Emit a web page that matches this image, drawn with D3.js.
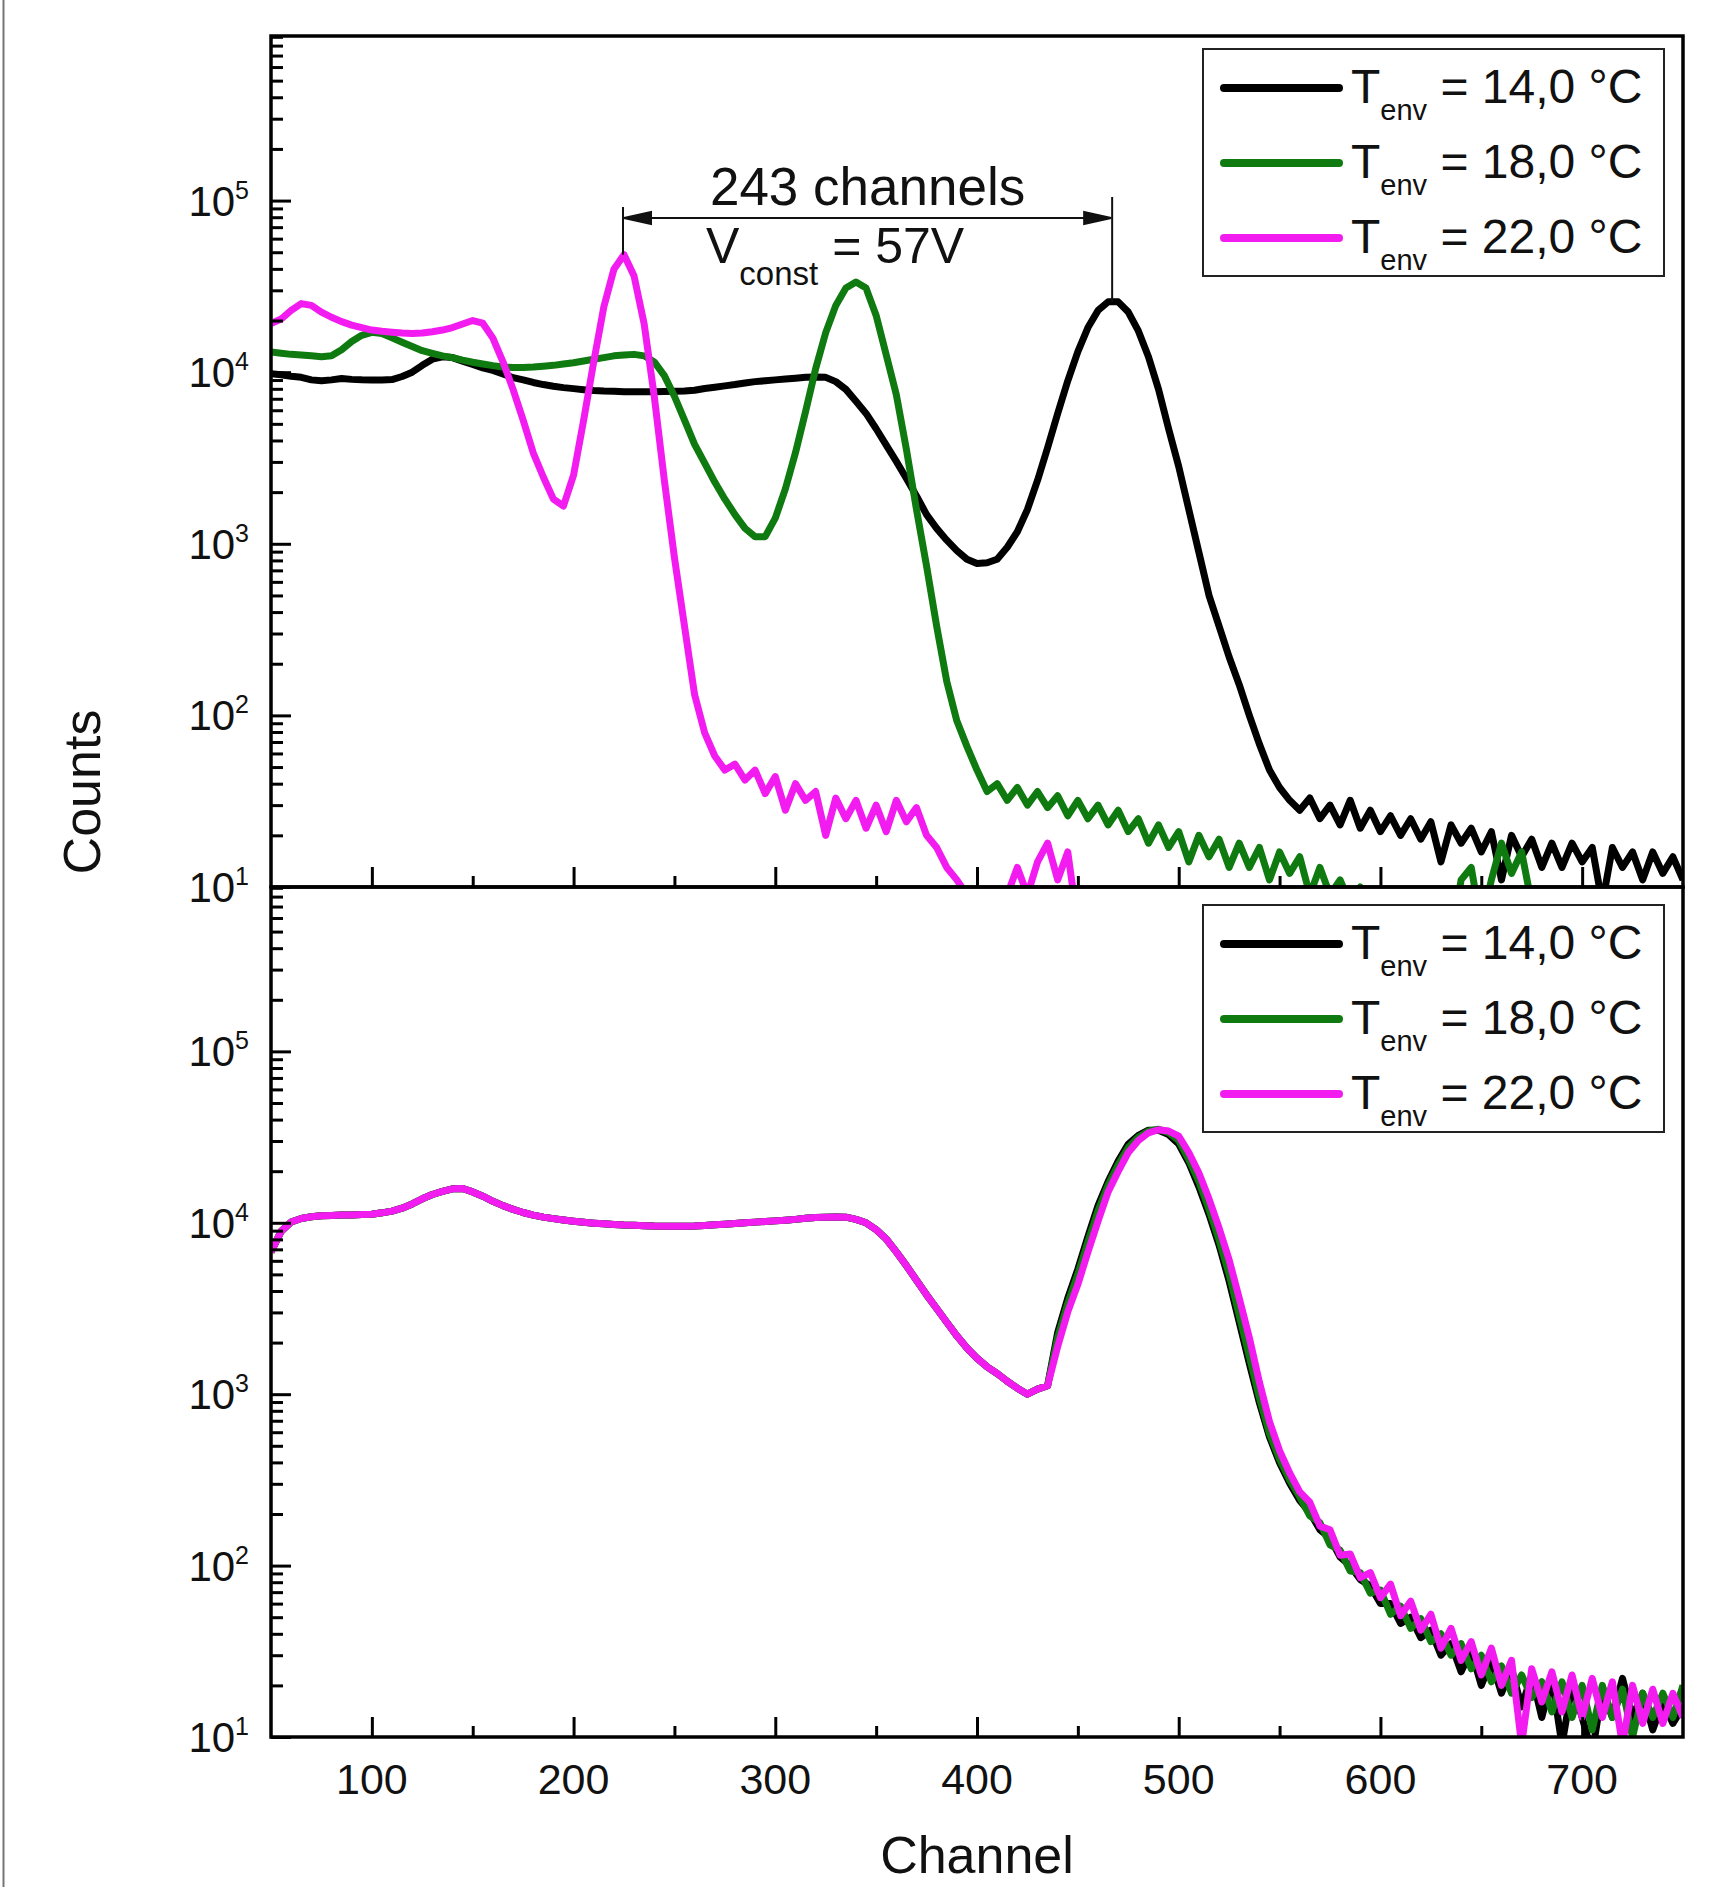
<!DOCTYPE html>
<html>
<head>
<meta charset="utf-8">
<script src="https://cdn.jsdelivr.net/npm/d3@7"></script>
<style>
  body { margin: 0; background: #fff; }
  svg { display: block; font-family: "Liberation Sans", Arial, sans-serif; }
  .tick line { stroke: #000; stroke-width: 3; }
</style>
</head>
<body>
<div id="chart"></div>
<script>
// channel grid (x values shared by every spectrum)
const channels = [
  50, 55, 60, 65, 70, 75, 80, 85, 90, 95,
  100, 105, 110, 115, 120, 125, 130, 135, 140, 145,
  150, 155, 160, 165, 170, 175, 180, 185, 190, 195,
  200, 205, 210, 215, 220, 225, 230, 235, 240, 245,
  250, 255, 260, 265, 270, 275, 280, 285, 290, 295,
  300, 305, 310, 315, 320, 325, 330, 335, 340, 345,
  350, 355, 360, 365, 370, 375, 380, 385, 390, 395,
  400, 405, 410, 415, 420, 425, 430, 435, 440, 445,
  450, 455, 460, 465, 470, 475, 480, 485, 490, 495,
  500, 505, 510, 515, 520, 525, 530, 535, 540, 545,
  550, 555, 560, 565, 570, 575, 580, 585, 590, 595,
  600, 605, 610, 615, 620, 625, 630, 635, 640, 645,
  650, 655, 660, 665, 670, 675, 680, 685, 690, 695,
  700, 705, 710, 715, 720, 725, 730, 735, 740, 745,
  750
];

// upper panel: constant bias voltage
const top14 = [
  9800, 9660, 9460, 9330, 9020, 8910, 9020, 9180, 9080, 9020,
  9000, 9000, 9060, 9440, 10000, 10960, 11900, 12300, 12160, 11600,
  11100, 10600, 10230, 9770, 9290, 9020, 8710, 8470, 8280, 8130,
  8020, 7910, 7820, 7760, 7730, 7690, 7690, 7690, 7690, 7710,
  7730, 7760, 7850, 8040, 8170, 8320, 8470, 8650, 8810, 8910,
  9020, 9120, 9230, 9330, 9380, 9330, 8810, 7940, 6760, 5750,
  4680, 3760, 3020, 2400, 1900, 1480, 1230, 1050, 912, 813,
  767, 776, 813, 955, 1175, 1585, 2340, 3630, 5750, 8910,
  13180, 18200, 22900, 25700, 25700, 22400, 17400, 12300, 7940, 4680,
  2820, 1585, 891, 501, 331, 219, 151, 100, 68, 48,
  38, 32, 28, 33, 25, 30, 23, 32, 22, 28,
  21, 26, 20, 25, 19, 24, 14, 23, 18, 22,
  16, 21, 11, 20, 15, 19, 13, 18, 13, 18,
  14, 17, 8, 17, 13, 16, 11, 16, 12, 15,
  11
];
const top18 = [
  13100, 12900, 12700, 12600, 12450, 12300, 12450, 13500, 15100, 16400,
  17060, 16800, 15850, 14960, 14130, 13340, 12880, 12450, 12160, 11750,
  11430, 11170, 10920, 10720, 10640, 10640, 10720, 10840, 10960, 11170,
  11350, 11610, 11890, 12160, 12450, 12590, 12700, 12450, 11480, 9550,
  7240, 5250, 3800, 2950, 2290, 1820, 1480, 1230, 1100, 1100,
  1410, 2090, 3390, 5890, 10470, 17000, 24500, 30900, 33500, 30900,
  21400, 12600, 7410, 3550, 1585, 741, 331, 158, 93, 66,
  48, 36, 40, 32, 38, 30, 36, 29, 34, 26,
  32, 25, 30, 23, 28, 21, 25, 18, 23, 17,
  21, 14, 20, 15, 19, 13, 18, 13, 17, 11,
  16, 12, 15, 9, 13, 9, 11, 8, 10, 6,
  7, 5, 8, 4, 6, 4, 7, 5, 11, 13,
  6, 11, 18, 12, 16, 8, 4, null, null, null,
  null, null, null, null, null, null, null, null, null, null,
  null
];
const top22 = [
  19200, 20400, 22900, 25100, 24500, 22400, 20900, 19700, 18800, 18200,
  17600, 17300, 17100, 16900, 16800, 16900, 17200, 17600, 18200, 19100,
  20000, 19300, 15800, 11500, 7940, 5250, 3390, 2450, 1820, 1660,
  2510, 5250, 11500, 24000, 39800, 48400, 36300, 19100, 7240, 2340,
  832, 331, 132, 79, 58, 48, 52, 42, 48, 35,
  44, 28, 40, 32, 36, 20, 33, 25, 32, 22,
  30, 21, 32, 24, 29, 20, 17, 13, 11, 9,
  5, 8, 4, 9, 13, 9, 14, 18, 11, 16,
  6, null, null, null, null, null, null, null, null, null,
  null, null, null, null, null, null, null, null, null, null,
  null, null, null, null, null, null, null, null, null, null,
  null, null, null, null, null, null, null, null, null, null,
  null, null, null, null, null, null, null, null, null, null,
  null, null, null, null, null, null, null, null, null, null,
  null
];

// lower panel: temperature compensated bias
const bottom14 = [
  6760, 8910, 10100, 10600, 10840, 10990, 11040, 11090, 11120, 11170,
  11220, 11430, 11700, 12160, 12880, 13800, 14620, 15240, 15780, 15850,
  15140, 14290, 13340, 12590, 11970, 11480, 11090, 10790, 10570, 10380,
  10210, 10070, 9950, 9860, 9770, 9700, 9660, 9620, 9570, 9550,
  9530, 9530, 9570, 9640, 9730, 9820, 9910, 10000, 10090, 10180,
  10260, 10350, 10470, 10620, 10720, 10790, 10820, 10790, 10470, 10000,
  9120, 8040, 6760, 5620, 4620, 3800, 3160, 2630, 2190, 1860,
  1620, 1445, 1320, 1190, 1084, 1000, 1070, 1120, 2290, 3630,
  5370, 8320, 12590, 17400, 22900, 28800, 32400, 34700, 34700, 32700,
  28800, 22400, 16200, 11220, 7410, 4570, 2630, 1510, 891, 562,
  398, 302, 240, 204, 162, 145, 112, 100, 83, 76,
  60, 60, 46, 50, 38, 42, 30, 35, 24, 32,
  20, 28, 18, 25, 15, 23, 13, 22, 9, 20,
  13, 8, 19, 13, 22, 13, 18, 11, 16, 12,
  15
];
const bottom18 = [
  6760, 8910, 10100, 10600, 10840, 10990, 11040, 11090, 11120, 11170,
  11220, 11430, 11700, 12160, 12880, 13800, 14620, 15240, 15780, 15850,
  15140, 14290, 13340, 12590, 11970, 11480, 11090, 10790, 10570, 10380,
  10210, 10070, 9950, 9860, 9770, 9700, 9660, 9620, 9570, 9550,
  9530, 9530, 9570, 9640, 9730, 9820, 9910, 10000, 10090, 10180,
  10260, 10350, 10470, 10620, 10720, 10790, 10820, 10790, 10470, 10000,
  9120, 8040, 6760, 5620, 4620, 3800, 3160, 2630, 2190, 1860,
  1620, 1445, 1320, 1190, 1084, 1000, 1070, 1120, 2140, 3390,
  5010, 7760, 11750, 16600, 21900, 27500, 31600, 34300, 35100, 33500,
  30200, 23400, 17400, 12000, 7940, 5010, 2880, 1660, 955, 589,
  417, 316, 251, 195, 178, 132, 123, 93, 91, 69,
  72, 52, 58, 43, 49, 36, 40, 30, 35, 25,
  30, 21, 26, 18, 23, 17, 21, 14, 21, 13,
  20, 11, 20, 13, 19, 10, 18, 13, 18, 13,
  20
];
const bottom22 = [
  6760, 8910, 10100, 10600, 10840, 10990, 11040, 11090, 11120, 11170,
  11220, 11430, 11700, 12160, 12880, 13800, 14620, 15240, 15780, 15850,
  15140, 14290, 13340, 12590, 11970, 11480, 11090, 10790, 10570, 10380,
  10210, 10070, 9950, 9860, 9770, 9700, 9660, 9620, 9570, 9550,
  9530, 9530, 9570, 9640, 9730, 9820, 9910, 10000, 10090, 10180,
  10260, 10350, 10470, 10620, 10720, 10790, 10820, 10790, 10470, 10000,
  9120, 8040, 6760, 5620, 4620, 3800, 3160, 2630, 2190, 1860,
  1620, 1445, 1320, 1190, 1084, 1000, 1070, 1120, 1900, 3020,
  4370, 6760, 10230, 15140, 19950, 25700, 30200, 33500, 34900, 34300,
  32000, 25700, 19500, 13800, 9330, 6080, 3630, 2140, 1175, 692,
  468, 347, 269, 234, 170, 162, 115, 117, 85, 91,
  65, 78, 51, 62, 42, 52, 33, 43, 28, 36,
  23, 33, 20, 28, 9, 25, 16, 24, 14, 23,
  13, 22, 13, 21, 9, 20, 12, 19, 12, 18,
  13
];

const legendTemps = ["14,0", "18,0", "22,0"];
const seriesColors = ["#000000", "#0f7a0f", "#f21cf0"];

const yMajorTicks = [10, 100, 1000, 10000, 100000];
const yMinorTicks = [
  20, 30, 40, 50, 60, 70, 80, 90,
  200, 300, 400, 500, 600, 700, 800, 900,
  2000, 3000, 4000, 5000, 6000, 7000, 8000, 9000,
  20000, 30000, 40000, 50000, 60000, 70000, 80000, 90000,
  200000, 300000, 400000, 500000, 600000, 700000, 800000, 900000
];
const xMajorTicks = [100, 200, 300, 400, 500, 600, 700];
const xMinorTicks = [150, 250, 350, 450, 550, 650];

// annotation: peak distance at constant voltage
const peakLeft = 224.5;
const peakRight = 467;

const svgWidth = 1722;
const svgHeight = 1887;
const plotLeft = 271;
const plotRight = 1683;

const panels = [
    { top: 36, bottom: 887, legendTop: 49, series: [top14, top18, top22] },
    { top: 887, bottom: 1737, legendTop: 905, series: [bottom14, bottom18, bottom22] }
];

const svg = d3.select("#chart")
    .append("svg")
    .attr("width", svgWidth)
    .attr("height", svgHeight);

svg.append("rect")
    .attr("width", svgWidth)
    .attr("height", svgHeight)
    .attr("fill", "#fff");

// thin border line on the left edge of the picture
svg.append("line")
    .attr("x1", 3.5).attr("x2", 3.5)
    .attr("y1", 0).attr("y2", svgHeight)
    .attr("stroke", "#777")
    .attr("stroke-width", 2);

const x = d3.scaleLinear().domain([50, 750]).range([plotLeft, plotRight]);

const yScales = [];

panels.forEach(function(panel, i) {
    const y = d3.scaleLog().domain([10, 910000]).range([panel.bottom, panel.top]);
    yScales.push(y);

    const clipId = "clip" + i;
    svg.append("clipPath").attr("id", clipId)
        .append("rect")
        .attr("x", plotLeft)
        .attr("y", panel.top)
        .attr("width", plotRight - plotLeft)
        .attr("height", panel.bottom - panel.top);

    const line = d3.line()
        .defined(d => d[1] != null)
        .x(d => x(d[0]))
        .y(d => y(d[1]));

    const curves = svg.append("g").attr("clip-path", `url(#${clipId})`);
    panel.series.forEach(function(values, s) {
        curves.append("path")
            .datum(channels.map((c, k) => [c, values[k]]))
            .attr("d", line)
            .attr("fill", "none")
            .attr("stroke", seriesColors[s])
            .attr("stroke-width", 7)
            .attr("stroke-linejoin", "round");
    });

    // y ticks, pointing inwards
    const yMajor = svg.append("g")
        .attr("transform", `translate(${plotLeft},0)`)
        .call(d3.axisLeft(y).tickValues(yMajorTicks).tickSize(-20).tickFormat(""));
    const yMinor = svg.append("g")
        .attr("transform", `translate(${plotLeft},0)`)
        .call(d3.axisLeft(y).tickValues(yMinorTicks).tickSize(-12).tickFormat(""));

    // x ticks on the lower edge of each panel, pointing up
    const xMajor = svg.append("g")
        .attr("transform", `translate(0,${panel.bottom})`)
        .call(d3.axisBottom(x).tickValues(xMajorTicks).tickSize(-20).tickFormat(""));
    const xMinor = svg.append("g")
        .attr("transform", `translate(0,${panel.bottom})`)
        .call(d3.axisBottom(x).tickValues(xMinorTicks).tickSize(-11).tickFormat(""));

    [yMajor, yMinor, xMajor, xMinor].forEach(g => g.select(".domain").remove());

    svg.append("rect")
        .attr("x", plotLeft)
        .attr("y", panel.top)
        .attr("width", plotRight - plotLeft)
        .attr("height", panel.bottom - panel.top)
        .attr("fill", "none")
        .attr("stroke", "#000")
        .attr("stroke-width", 3.5);

    // y tick labels as 10^n
    yMajorTicks.forEach(function(v) {
        const label = svg.append("text")
            .attr("x", 249)
            .attr("y", y(v) + 15)
            .attr("text-anchor", "end")
            .attr("font-size", 42)
            .attr("fill", "#111");
        label.append("tspan").text("10");
        label.append("tspan")
            .attr("font-size", 25)
            .attr("dy", -17)
            .text(Math.round(Math.log10(v)));
    });

    // legend
    const legend = svg.append("g");
    legend.append("rect")
        .attr("x", 1203)
        .attr("y", panel.legendTop)
        .attr("width", 461)
        .attr("height", 227)
        .attr("fill", "#fff")
        .attr("stroke", "#222")
        .attr("stroke-width", 2);

    legendTemps.forEach(function(temp, s) {
        const rowY = panel.legendTop + 39 + s * 75;
        legend.append("line")
            .attr("x1", 1224).attr("x2", 1339)
            .attr("y1", rowY).attr("y2", rowY)
            .attr("stroke", seriesColors[s])
            .attr("stroke-width", 8)
            .attr("stroke-linecap", "round");
        const t = legend.append("text")
            .attr("x", 1351)
            .attr("y", rowY + 15)
            .attr("font-size", 48)
            .attr("fill", "#111");
        t.append("tspan").text("T");
        t.append("tspan").attr("font-size", 29).attr("dy", 17).text("env");
        t.append("tspan").attr("dy", -17).text(` = ${temp} °C`);
    });
});

// x tick labels below the lower panel
xMajorTicks.forEach(function(v) {
    svg.append("text")
        .attr("x", x(v))
        .attr("y", 1794)
        .attr("text-anchor", "middle")
        .attr("font-size", 43)
        .attr("fill", "#111")
        .text(v);
});

svg.append("text")
    .attr("x", (plotLeft + plotRight) / 2)
    .attr("y", 1873)
    .attr("text-anchor", "middle")
    .attr("font-size", 52)
    .attr("fill", "#111")
    .text("Channel");

svg.append("text")
    .attr("transform", "translate(100,792) rotate(-90)")
    .attr("text-anchor", "middle")
    .attr("font-size", 52)
    .attr("fill", "#111")
    .text("Counts");

// peak distance annotation in the upper panel
const yTop = yScales[0];
const xl = x(peakLeft);
const xr = x(peakRight);
const arrowY = 218;
const ann = svg.append("g").attr("stroke", "#111").attr("stroke-width", 2);

ann.append("line")
    .attr("x1", xl).attr("x2", xl)
    .attr("y1", 207).attr("y2", yTop(d3.max(top22)));
ann.append("line")
    .attr("x1", xr).attr("x2", xr)
    .attr("y1", 197).attr("y2", yTop(d3.max(top14)));
ann.append("line")
    .attr("x1", xl + 4).attr("x2", xr - 4)
    .attr("y1", arrowY).attr("y2", arrowY);
ann.append("path")
    .attr("d", `M${xl + 1},${arrowY} L${xl + 28},${arrowY - 6} L${xl + 28},${arrowY + 6} Z`)
    .attr("fill", "#111");
ann.append("path")
    .attr("d", `M${xr - 1},${arrowY} L${xr - 28},${arrowY - 6} L${xr - 28},${arrowY + 6} Z`)
    .attr("fill", "#111");

svg.append("text")
    .attr("x", (xl + xr) / 2)
    .attr("y", 205)
    .attr("text-anchor", "middle")
    .attr("font-size", 53)
    .attr("fill", "#111")
    .text("243 channels");

const vText = svg.append("text")
    .attr("x", 706)
    .attr("y", 263)
    .attr("font-size", 50)
    .attr("fill", "#111");
vText.append("tspan").text("V");
vText.append("tspan").attr("font-size", 33).attr("dy", 22).text("const");
vText.append("tspan").attr("dy", -22).text(" = 57V");
</script>
</body>
</html>
